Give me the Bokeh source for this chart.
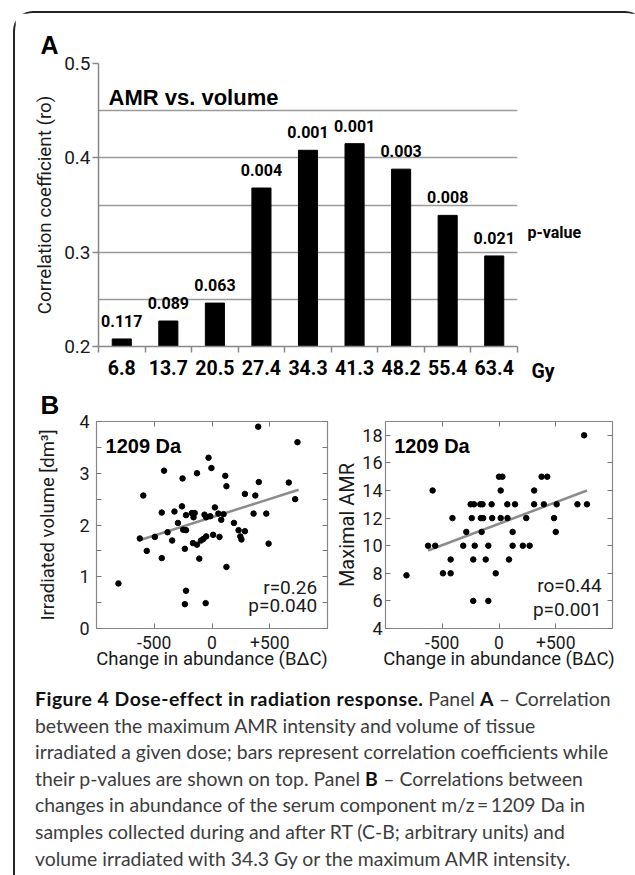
from bokeh.plotting import figure
from bokeh.models import Range1d, FixedTicker, LinearAxis, Label, Div, Spacer
from bokeh.layouts import column, row
from bokeh.embed import file_html
from bokeh.resources import INLINE
from bokeh.core.properties import value

# ---------------- Panel A data ----------------
doses = ["6.8", "13.7", "20.5", "27.4", "34.3", "41.3", "48.2", "55.4", "63.4"]
rho = [0.208, 0.227, 0.246, 0.368, 0.408, 0.415, 0.388, 0.339, 0.296]
p_values = ["0.117", "0.089", "0.063", "0.004", "0.001", "0.001", "0.003", "0.008", "0.021"]
a_y_ticks = [0.2, 0.3, 0.4, 0.5]
a_grid = [0.25, 0.3, 0.35, 0.4, 0.45, 0.5]
unit_label = "Gy"

# ---------------- Panel B left: irradiated volume ----------------
vol_x = [400, 740, -30, -5, -415, -130, -255, 115, 125, 405, 665, -595, 285, 375, 720,
         -260, 25, -435, -325, -175, -150, -225, -160, -65, -50, -15, 55, 100, 80, 470,
         360, -295, -250, -225, -385, 190, 230, 285, 245, 255, -625, -495, -345, -565,
         -235, -165, -130, -95, -75, -50, 10, 65, -435, -110, 490, 125, -810, -225, -235, -55]
vol_y = [3.9, 3.6, 3.3, 3.1, 3.05, 3.0, 2.9, 2.95, 2.75, 2.83, 2.82, 2.57, 2.6, 2.57, 2.5,
         2.36, 2.34, 2.24, 2.26, 2.23, 2.23, 2.19, 2.15, 2.2, 2.15, 2.17, 2.22, 2.21, 2.1, 2.22,
         2.22, 2.04, 1.91, 1.9, 1.86, 2.04, 1.9, 1.88, 1.78, 1.72, 1.74, 1.77, 1.7, 1.5,
         1.54, 1.65, 1.62, 1.7, 1.73, 1.78, 1.81, 1.77, 1.36, 1.35, 1.64, 1.19, 0.87, 0.73, 0.47, 0.49]
vol_fit_x = [-636, 750]
vol_fit_y = [1.70, 2.68]
vol_y_ticks = [0, 1, 2, 3, 4]
vol_y_minor = [0.5, 1.5, 2.5, 3.5]

# ---------------- Panel B right: maximal AMR ----------------
amr_x = [750,
         0, 30, 375, 425,
         -585, 15, 310,
         -250, -220, -165, -145, -65, 73, 141, 309, 395, 508, 691, 775,
         -410, -240, -160, -140, -60, 15, 75, 240, 485,
         -288, -153, 120, 500,
         -625, -562, -315, -214, -94, 120, 210, 270,
         -426, -227, -117, 88,
         -494, -426, -29,
         -815,
         -227, -94]
amr_y = [18,
         15, 15, 15, 15,
         14, 14, 14,
         13, 13, 13, 13, 13, 13, 13, 13, 13, 13, 13, 13,
         12, 12, 12, 12, 12, 12, 12, 12, 12,
         11, 11, 11, 11,
         10, 10, 10, 10, 10, 10, 10, 10,
         9, 9, 9, 9,
         8, 8, 8,
         7.85,
         6, 6]
amr_fit_x = [-625, 775]
amr_fit_y = [9.65, 14.0]
amr_y_ticks = [4, 6, 8, 10, 12, 14, 16, 18]

change_ticks = [-500, 0, 500]
change_labels = {-500: "-500", 0: "0", 500: "+500"}

NARROW = "Roboto"
SANS = "Liberation Sans"
DARK = "#1a1a1a"

# ================= Panel A =================
xpos = list(range(1, len(doses) + 1))
pa = figure(width=504, height=372, x_range=Range1d(0.5, len(doses) + 0.5),
            y_range=Range1d(0.2, 0.5), output_backend="svg", toolbar_location=None,
            title="A",
            min_border_left=83, min_border_right=2, min_border_top=50, min_border_bottom=39)
xa = pa.below[0]
ya = pa.left[0]
pa.outline_line_color = None
pa.background_fill_color = "white"
pa.border_fill_color = "white"
pa.title.align = "left"
pa.title.offset = -58
pa.title.text_font = SANS
pa.title.text_font_style = "bold"
pa.title.text_font_size = "25px"
pa.title.text_color = "black"

pa.xgrid.visible = False
pa.ygrid.ticker = FixedTicker(ticks=a_grid)
pa.ygrid.grid_line_color = "#9a9a9a"
pa.ygrid.grid_line_width = 1.5

pa.vbar(x=xpos, top=rho, bottom=0.2, width=0.41, color="black")
pa.text(x=xpos, y=rho, text=p_values, text_font=value(NARROW), text_font_style="bold",
        text_font_size="16px", text_align="center", text_baseline="alphabetic",
        y_offset=-18, text_color="black")

xa.ticker = FixedTicker(ticks=xpos, minor_ticks=[x - 0.5 for x in xpos] + [xpos[-1] + 0.5])
xa.major_label_overrides = {x: d for x, d in zip(xpos, doses)}
xa.major_tick_line_color = None
xa.major_tick_out = 6
xa.minor_tick_line_color = "#888888"
xa.minor_tick_line_width = 1.5
xa.minor_tick_out = 6
xa.minor_tick_in = 0
xa.axis_line_color = "#888888"
xa.axis_line_width = 1.5
xa.major_label_standoff = 7
xa.major_label_text_font = NARROW
xa.major_label_text_font_size = "19.5px"
xa.major_label_text_font_style = "bold"
xa.major_label_text_color = "black"

ya.ticker = FixedTicker(ticks=a_y_ticks)
ya.axis_label = "Correlation coefficient (ro)"
ya.axis_label_text_font = NARROW
ya.axis_label_text_font_size = "18.8px"
ya.axis_label_text_font_style = "normal"
ya.axis_label_text_color = DARK
ya.axis_label_standoff = 5
ya.major_label_standoff = 2
ya.major_label_text_font = NARROW
ya.major_label_text_font_size = "19px"
ya.major_label_text_color = DARK
ya.major_tick_out = 6
ya.major_tick_in = 0
ya.major_tick_line_color = "#888888"
ya.major_tick_line_width = 1.5
ya.minor_tick_line_color = None
ya.axis_line_color = "#888888"
ya.axis_line_width = 1.5

pa.add_layout(Label(x=0.715, y=0.464, text="AMR vs. volume", text_font=SANS,
                    text_font_style="bold", text_font_size="22px", text_color="black",
                    text_baseline="alphabetic"))

# side strip continuing panel A's scale to the right of its frame
side_x_range = Range1d(9.543, 12.034)
side = figure(width=116, height=372, x_range=side_x_range, y_range=Range1d(0.2, 0.5),
              output_backend="svg", toolbar_location=None, title=None,
              y_axis_location=None,
              min_border_left=0, min_border_right=0, min_border_top=50, min_border_bottom=39)
side.grid.visible = False
side.outline_line_color = None
side.background_fill_color = "white"
side.border_fill_color = "white"
side.add_layout(Label(x=9.715, y=0.321, text="p-value", text_font=NARROW, text_font_style="bold",
                      text_font_size="16px", text_color="black", text_baseline="middle"))
sx = side.below[0]
gy_pos = 10.048
sx.ticker = FixedTicker(ticks=[gy_pos])
sx.major_label_overrides = {gy_pos: unit_label}
sx.axis_line_color = None
sx.major_tick_line_color = None
sx.minor_tick_line_color = None
sx.major_tick_out = 6
sx.major_label_standoff = 7
sx.major_label_text_font = NARROW
sx.major_label_text_font_size = "19.5px"
sx.major_label_text_font_style = "bold"
sx.major_label_text_color = "black"


# ================= Panel B =================
def tick_style(ax, ticker, labels=True, overrides=None):
    ax.ticker = ticker
    ax.axis_line_color = None
    ax.major_tick_in = 5
    ax.major_tick_out = 0
    ax.major_tick_line_color = "#777777"
    ax.minor_tick_in = 5
    ax.minor_tick_out = 0
    ax.minor_tick_line_color = "#777777"
    if overrides:
        ax.major_label_overrides = overrides
    if labels:
        ax.major_label_text_font = NARROW
        ax.major_label_text_font_size = "18px"
        ax.major_label_text_color = DARK
    else:
        ax.major_label_standoff = 0


def scatter_panel(xs, ys, fx, fy, y_lim, y_ticks, y_minor, y_label, y_label_size, width, mbl, mbr,
                  y_label_standoff, y_major_standoff, title):
    p = figure(width=width, height=303, x_range=Range1d(-1000, 1000), y_range=Range1d(*y_lim),
               output_backend="svg", toolbar_location=None, title=title,
               min_border_left=mbl, min_border_right=mbr, min_border_top=36, min_border_bottom=60)
    xa = p.below[0]
    ya = p.left[0]
    p.xgrid.visible = False
    p.ygrid.visible = False
    p.outline_line_color = "#888888"
    p.outline_line_width = 1.2
    p.background_fill_color = "white"
    p.border_fill_color = None

    p.line(fx, fy, line_color="#8c8c8c", line_width=2.5)
    p.scatter(xs, ys, size=5.5, color="black")

    tick_style(xa, FixedTicker(ticks=change_ticks), overrides=change_labels)
    xa.major_label_text_font_size = "17.5px"
    xa.major_label_standoff = 7
    xa.axis_label = "Change in abundance (B\u0394C)"
    xa.axis_label_text_font = NARROW
    xa.axis_label_text_font_size = "18.5px"
    xa.axis_label_text_font_style = "normal"
    xa.axis_label_text_color = DARK
    xa.axis_label_standoff = -4

    tick_style(ya, FixedTicker(ticks=y_ticks, minor_ticks=y_minor))
    ya.major_label_standoff = y_major_standoff
    ya.axis_label = y_label
    ya.axis_label_text_font = NARROW
    ya.axis_label_text_font_size = y_label_size
    ya.axis_label_text_font_style = "normal"
    ya.axis_label_text_color = DARK
    ya.axis_label_standoff = y_label_standoff

    top = LinearAxis()
    tick_style(top, FixedTicker(ticks=[], minor_ticks=change_ticks), labels=False)
    p.add_layout(top, "above")
    right = LinearAxis()
    tick_style(right, FixedTicker(ticks=[], minor_ticks=sorted(y_ticks + y_minor)), labels=False)
    p.add_layout(right, "right")
    return p


pb1 = scatter_panel(vol_x, vol_y, vol_fit_x, vol_fit_y, (0, 4), vol_y_ticks, vol_y_minor,
                    "Irradiated volume [dm\u00b3]", "18.5px", 317, 81, 5, 17, 7, "B")
pb1.title.align = "left"
pb1.title.offset = -56
pb1.title.standoff = 3
pb1.title.text_font = SANS
pb1.title.text_font_style = "bold"
pb1.title.text_font_size = "26px"
pb1.title.text_color = "black"
pb1.add_layout(Label(x=-922, y=3.53, text="1209 Da", text_font=SANS, text_font_style="bold",
                     text_font_size="20px", text_color="black", text_baseline="alphabetic"))
pb1.add_layout(Label(x=910, y=0.79, text="r=0.26", text_font=NARROW, text_font_size="19px",
                     text_color=DARK, text_align="right", text_baseline="middle"))
pb1.add_layout(Label(x=910, y=0.44, text="p=0.040", text_font=NARROW, text_font_size="19px",
                     text_color=DARK, text_align="right", text_baseline="middle"))

pb2 = scatter_panel(amr_x, amr_y, amr_fit_x, amr_fit_y, (4, 19), amr_y_ticks, [],
                    "Maximal AMR", "20px", 303, 51, 23, 0, 3, None)
pb2.add_layout(Label(x=-924, y=17.26, text="1209 Da", text_font=SANS, text_font_style="bold",
                     text_font_size="20px", text_color="black", text_baseline="alphabetic"))
pb2.add_layout(Label(x=905, y=7.09, text="ro=0.44", text_font=NARROW, text_font_size="19px",
                     text_color=DARK, text_align="right", text_baseline="middle"))
pb2.add_layout(Label(x=905, y=5.39, text="p=0.001", text_font=NARROW, text_font_size="19px",
                     text_color=DARK, text_align="right", text_baseline="middle"))

# ================= Caption =================
B = '<b style="color:#111; letter-spacing:0.5px">'
caption_lines = [
    B + 'Figure 4 Dose-effect in radiation response.</b> Panel ' + B + 'A</b> \u2013 Correlation',
    'between the maximum AMR intensity and volume of tissue',
    'irradiated a given dose; bars represent correlation coefficients while',
    'their p-values are shown on top. Panel ' + B + 'B</b> \u2013 Correlations between',
    'changes in abundance of the serum component m/z\u2009=\u20091209 Da in',
    'samples collected during and after RT (C-B; arbitrary units) and',
    'volume irradiated with 34.3 Gy or the maximum AMR intensity.',
]
caption_html = ('<div style="font-family:Lato, sans-serif; font-size:19.4px; line-height:26.6px; '
                'color:#3d3d3d; padding-left:15px; white-space:nowrap; margin-top:-7px;">'
                + '<br>'.join(caption_lines) + '</div>')
cap = Div(text=caption_html, width=620, height=187)

boxed = column(row(pa, side), row(pb1, pb2), cap,
               styles={"border-left": "2px solid #222", "border-top": "2px solid #222",
                       "border-top-left-radius": "20px", "border-top-right-radius": "20px",
                       "background": "white"})
layout = column(Spacer(width=635, height=11), row(Spacer(width=13, height=10), boxed))

open("out.html", "w").write(file_html(layout, INLINE))
